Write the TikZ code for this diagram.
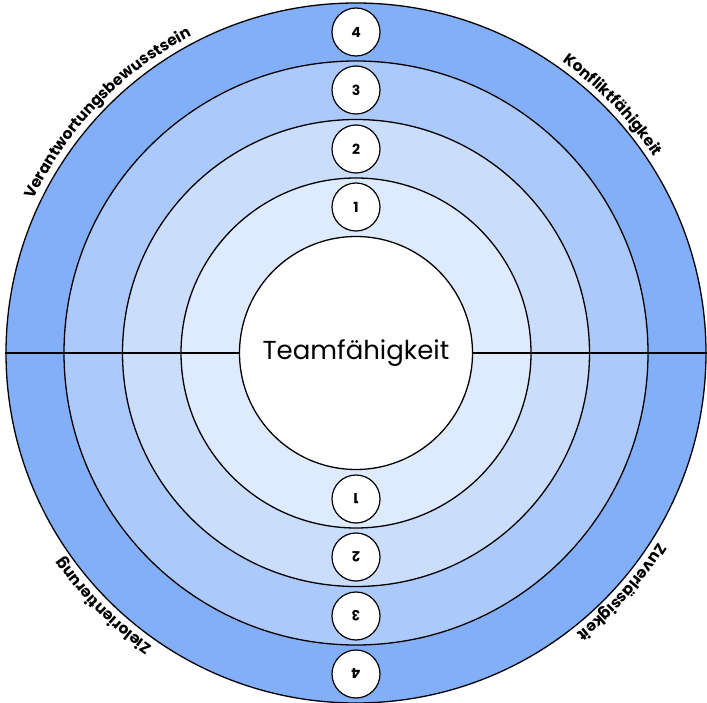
\documentclass[tikz,border=0pt]{standalone}
\usepackage{fontspec}
\setmainfont{Poppins}
\usetikzlibrary{decorations.text,calc}
\definecolor{ringA}{RGB}{131,175,248}
\definecolor{ringB}{RGB}{171,201,250}
\definecolor{ringC}{RGB}{202,222,252}
\definecolor{ringD}{RGB}{222,234,253}
\begin{document}
\begin{tikzpicture}[x=1pt,y=1pt,
  ring/.style={circle, draw=black, line width=1.3pt, inner sep=0pt, minimum size=#1},
  numcirc/.style={circle, draw=black, fill=white, line width=1.2pt, minimum size=48pt, inner sep=0pt, font=\bfseries\fontsize{14}{14}\selectfont},
  arclabel/.style={decorate, decoration={text along path, text align=center, text={|\bfseries\fontsize{15.5}{16}\selectfont|#1}}}]
\useasboundingbox (0,0) rectangle (707,-703);
\coordinate (O) at (356,-353);
\node[ring=700pt, fill=ringA] (c4) at (O) {};
\node[ring=584pt, fill=ringB] (c3) at (O) {};
\node[ring=467pt, fill=ringC] (c2) at (O) {};
\node[ring=350pt, fill=ringD] (c1) at (O) {};
\draw[line width=1.3pt] (c4.west) -- (c4.east);
\node[ring=233pt, fill=white, font=\fontsize{26}{28}\selectfont] (c0) at (O) {Teamfähigkeit};
% numbers top
\node[numcirc] (t4) at ($(O)+(0,321)$) {4};
\node[numcirc] (t3) at ($(O)+(0,263)$) {3};
\node[numcirc] (t2) at ($(O)+(0,204)$) {2};
\node[numcirc] (t1) at ($(O)+(0,146)$) {1};
% numbers bottom
\node[numcirc, rotate=180] (b4) at ($(O)+(0,-321)$) {4};
\node[numcirc, rotate=180] (b3) at ($(O)+(0,-263)$) {3};
\node[numcirc, rotate=180] (b2) at ($(O)+(0,-204)$) {2};
\node[numcirc, rotate=180] (b1) at ($(O)+(0,-146)$) {1};
% curved labels
\path[arclabel=Verantwortungsbewusstsein] (O) ++(166:357) arc[start angle=166, end angle=106, radius=357];
\path[arclabel=Konfliktfähigkeit] (O) ++(74:357) arc[start angle=74, end angle=14, radius=357];
\path[arclabel=Zuverlässigkeit] (O) ++(-12:357) arc[start angle=-12, end angle=-72, radius=357];
\path[arclabel=Zielorientierung] (O) ++(255:357) arc[start angle=255, end angle=195, radius=357];
\end{tikzpicture}
\end{document}
